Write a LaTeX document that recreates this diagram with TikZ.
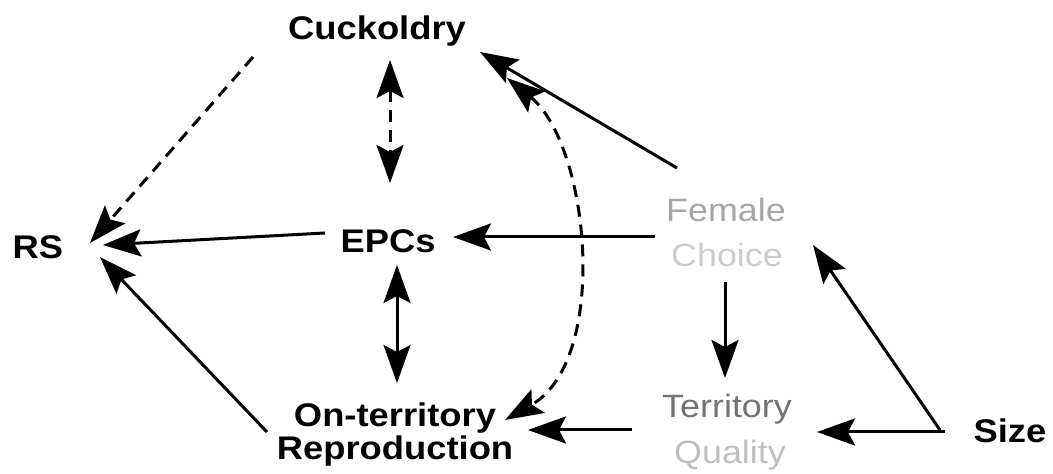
\documentclass[tikz,border=0pt]{standalone}
\usepackage{fontspec}
\setmainfont{Liberation Sans}
\usetikzlibrary{arrows.meta}
\newcommand{\squash}[1]{\scalebox{1}[0.9]{#1}}
\tikzset{
  lbl/.style={inner sep=0pt, anchor=base, font=\fontsize{36.5}{43}\selectfont\bfseries},
  faint/.style={inner sep=0pt, anchor=base, font=\fontsize{36}{43}\selectfont},
  conn/.style={line width=3bp, -{Stealth[length=38bp,width=27bp,inset=7bp]}},
  both/.style={line width=3bp, {Stealth[length=38bp,width=27bp,inset=7bp]}-{Stealth[length=38bp,width=27bp,inset=7bp]}},
  dsh/.style={dash pattern=on 12bp off 8bp}
}
\begin{document}
\begin{tikzpicture}[x=1bp,y=-1bp]
\useasboundingbox (0,0) rectangle (1053,474);
% nodes
\node[lbl] (cuck) at (377,40) {\squash{Cuckoldry}};
\node[lbl] (rs) at (38,259) {\squash{RS}};
\node[lbl] (epc) at (388,253) {\squash{EPCs}};
\node[lbl] (ont) at (395,426) {\squash{On-territory}};
\node[lbl] (ontb) at (395,459) {\squash{Reproduction}};
\node[faint, text=black!35] (fem) at (726,222) {\squash{Female}};
\node[faint, text=black!20] (femb) at (727,267) {\squash{Choice}};
\node[faint, text=black!55] (ter) at (727,418) {\squash{Territory}};
\node[faint, text=black!25] (terb) at (730,463) {\squash{Quality}};
\node[lbl] (size) at (1010,442) {\squash{Size}};
% connectors
\draw[conn, dsh] ([shift={(-124,17)}]cuck.base) -- ([shift={(52,-16)}]rs.base);
\draw[conn] ([shift={(-63,-20)}]epc.base) -- ([shift={(65,-14)}]rs.base);
\draw[conn] ([shift={(-128,6)}]ont.base) -- ([shift={(62,-2)}]rs.base);
\draw[both, dsh] ([shift={(13,20)}]cuck.base) -- ([shift={(2,-70)}]epc.base);
\draw[both] ([shift={(9,12)}]epc.base) -- ([shift={(2,-43)}]ont.base);
\draw[conn] ([shift={(-71,15)}]fem.base) -- ([shift={(65,-16)}]epc.base);
\draw[conn] ([shift={(-49,-54)}]fem.base) -- ([shift={(103,12)}]cuck.base);
\draw[both, dsh] ([shift={(130,38)}]cuck.base) .. controls (590,145) and (610,360) .. ([shift={(110,-6)}]ont.base);
\draw[conn] ([shift={(-2,15)}]femb.base) -- ([shift={(-2,-40)}]ter.base);
\draw[conn] ([shift={(-95,12)}]ter.base) -- ([shift={(133,4)}]ont.base);
\draw[conn] ([shift={(-70,-12)}]size.base) -- ([shift={(87,23)}]fem.base);
\draw[conn] ([shift={(-65,-10)}]size.base) -- ([shift={(90,14)}]ter.base);
\end{tikzpicture}
\end{document}
